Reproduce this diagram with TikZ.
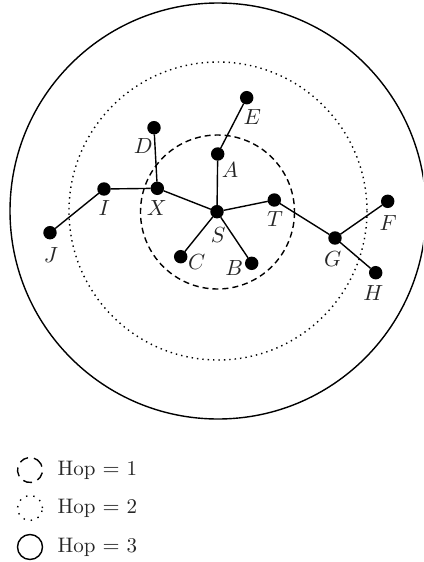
\documentclass[tikz,border=0pt]{standalone}
\usepackage{amsmath}
\usepackage{tikz}

\begin{document}
\begin{tikzpicture}[x=0.5pt,y=-0.5pt,line width=0.7pt]
    % `station' is used for the nodes (dots), `lbl' for their names.
    % `hopone', `hoptwo' and `hopthree' are used for the hop rings.
    % `key' is used for the small rings of the legend.
    \tikzstyle{station} = [draw,fill,shape=circle,minimum size=6pt,inner sep=0pt]
    \tikzstyle{lbl} = [inner sep=0.5pt,text=black!85,font=\fontsize{10.5}{12}\selectfont]
    \tikzstyle{hopone} = [draw,dash pattern=on 3pt off 2pt]
    \tikzstyle{hoptwo} = [draw,dotted]
    \tikzstyle{hopthree} = [draw]
    \tikzstyle{key} = [circle,minimum size=12.5pt,inner sep=0pt]
    %
    \useasboundingbox (0,0) rectangle (423,562);
    \clip (0,0) rectangle (423,562);
    % Draw the hop rings.
    \draw[hopthree] (218,211) circle[radius=208];
    \draw[hoptwo] (218,211) circle[radius=149];
    \draw[hopone] (217.5,212) circle[radius=77];
    %
    \node[station] (S) at (217,211.7) {};
    \node[station] (A) at (217.7,154) {};
    \node[station] (E) at (246.7,97.7) {};
    \node[station] (D) at (154,127.7) {};
    \node[station] (X) at (157.3,188.3) {};
    \node[station] (I) at (104,189) {};
    \node[station] (J) at (50,232.7) {};
    \node[station] (C) at (180.7,256.7) {};
    \node[station] (B) at (251.7,263.3) {};
    \node[station] (T) at (274.3,200) {};
    \node[station] (G) at (335,238) {};
    \node[station] (F) at (387.7,201.3) {};
    \node[station] (H) at (375.7,272.7) {};
    % Names of the nodes.
    \node[lbl] (lS) at (218.3,235) {$S$};
    \node[lbl] (lA) at (230,170) {$A$};
    \node[lbl] (lE) at (252.3,117.3) {$E$};
    \node[lbl] (lD) at (143.3,145.7) {$D$};
    \node[lbl] (lX) at (156.7,208.3) {$X$};
    \node[lbl] (lI) at (104.3,208.3) {$I$};
    \node[lbl] (lJ) at (51,255) {$J$};
    \node[lbl] (lC) at (196.7,262.3) {$C$};
    \node[lbl] (lB) at (234.3,267.7) {$B$};
    \node[lbl] (lT) at (275,219.3) {$T$};
    \node[lbl] (lG) at (332.7,259.3) {$G$};
    \node[lbl] (lF) at (388.3,223.3) {$F$};
    \node[lbl] (lH) at (373.3,293.3) {$H$};
    % Draw links.
    \draw (S) -- (A)  (A) -- (E)  (S) -- (X)  (X) -- (D)  (X) -- (I)
          (I) -- (J)  (S) -- (C)  (S) -- (B)  (S) -- (T)  (T) -- (G)
          (G) -- (F)  (G) -- (H);
    %
    % Legend.
    \node[key,draw,dash pattern=on 4.5pt off 3pt,rotate=30] (key1) at (30,470) {};
    \node[key,draw,dash pattern=on 0.7pt off 3pt] (key2) at (30,508) {};
    \node[key,draw] (key3) at (30,547) {};
    \node[lbl,anchor=west] (txt1) at (56,470) {Hop $=$ 1};
    \node[lbl,anchor=west] (txt2) at (56,508) {Hop $=$ 2};
    \node[lbl,anchor=west] (txt3) at (56,547) {Hop $=$ 3};
\end{tikzpicture}
\end{document}
